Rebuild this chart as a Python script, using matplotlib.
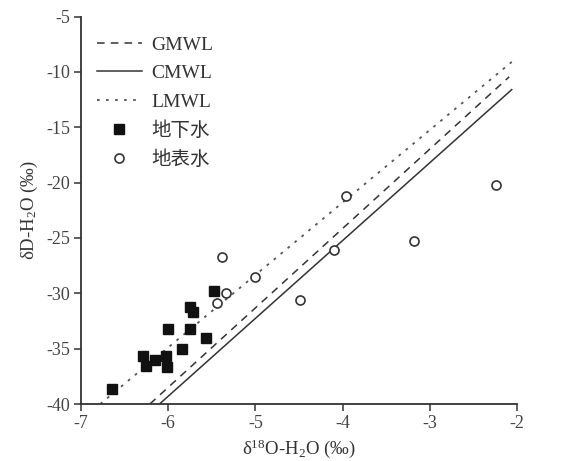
import matplotlib
matplotlib.use("Agg")
import matplotlib.pyplot as plt
import numpy as np

# Groundwater (地下水)
gw_d18o = [-6.64, -6.29, -6.25, -6.15, -6.02, -6.01, -6.00, -5.75, -5.84, -5.57, -5.75, -5.72, -5.47]
gw_dD = [-38.6, -35.7, -36.6, -36.0, -35.7, -36.7, -33.2, -33.2, -35.0, -34.0, -31.2, -31.7, -29.8]

# Surface water (地表水)
sw_d18o = [-5.38, -5.01, -5.34, -5.44, -3.96, -4.10, -4.49, -3.18, -2.24]
sw_dD = [-26.7, -28.5, -30.0, -30.9, -21.2, -26.1, -30.6, -25.3, -20.2]

# Meteoric water lines (x range, y range as drawn)
gmwl_x = [-6.21, -2.09]
gmwl_y = [-40.0, -10.45]
cmwl_x = [-6.10, -2.06]
cmwl_y = [-40.0, -11.6]
lmwl_x = [-6.78, -2.06]
lmwl_y = [-40.0, -9.1]

xticks = [-7, -6, -5, -4, -3, -2]
yticks = [-40, -35, -30, -25, -20, -15, -10, -5]

fam = ['Liberation Serif', 'Noto Sans CJK SC']
plt.rcParams['font.family'] = fam
plt.rcParams['axes.unicode_minus'] = False
plt.rcParams['mathtext.fontset'] = 'custom'
plt.rcParams['mathtext.rm'] = 'Liberation Serif'
plt.rcParams['mathtext.it'] = 'Liberation Serif:italic'

fig = plt.figure(figsize=(5.66, 4.61), dpi=100)
ax = fig.add_axes([0.1431, 0.1236, 0.9134 - 0.1431, 0.9642 - 0.1236])

ax.plot(gmwl_x, gmwl_y, linestyle=(0, (5, 4)), color='#333333', lw=1.1, label='GMWL')
ax.plot(cmwl_x, cmwl_y, linestyle='-', color='#333333', lw=1.1, label='CMWL')
ax.plot(lmwl_x, lmwl_y, linestyle=(0, (1.5, 3.5)), color='#555555', lw=1.3, label='LMWL')
ax.plot(gw_d18o, gw_dD, linestyle='none', marker='s', ms=7, mfc='#111111', mec='#111111', label='地下水')
ax.plot(sw_d18o, sw_dD, linestyle='none', marker='o', ms=6.5, mfc='white', mec='#333333', mew=1.2, label='地表水')

ax.set_xlim(-7, -2)
ax.set_ylim(-40, -5)
ax.set_xticks(xticks)
ax.set_yticks(yticks)
ax.set_xticklabels([str(t) for t in xticks])
ax.set_yticklabels([str(t) for t in yticks])
for s in ['top', 'right']:
    ax.spines[s].set_visible(False)
for s in ['left', 'bottom']:
    ax.spines[s].set_linewidth(1.3)
    ax.spines[s].set_color('#333333')
ax.tick_params(direction='out', length=5, width=1.1, colors='#333333', labelsize=13, labelcolor='#444444', pad=3)

ax.set_xlabel(r'δ$\mathregular{^{18}}$O-H$\mathregular{_2}$O (‰)', fontsize=13.5, color='#333333', labelpad=4)
ax.set_ylabel(r'δD-H$\mathregular{_2}$O (‰)', fontsize=13.5, color='#333333', labelpad=4)

leg = ax.legend(loc='upper left', bbox_to_anchor=(0.0, 0.99), frameon=False, fontsize=14,
                handlelength=2.3, handletextpad=0.5, labelspacing=0.55, borderaxespad=0.42)
for t in leg.get_texts():
    t.set_color('#333333')

fig.savefig('out.png', dpi=100)
